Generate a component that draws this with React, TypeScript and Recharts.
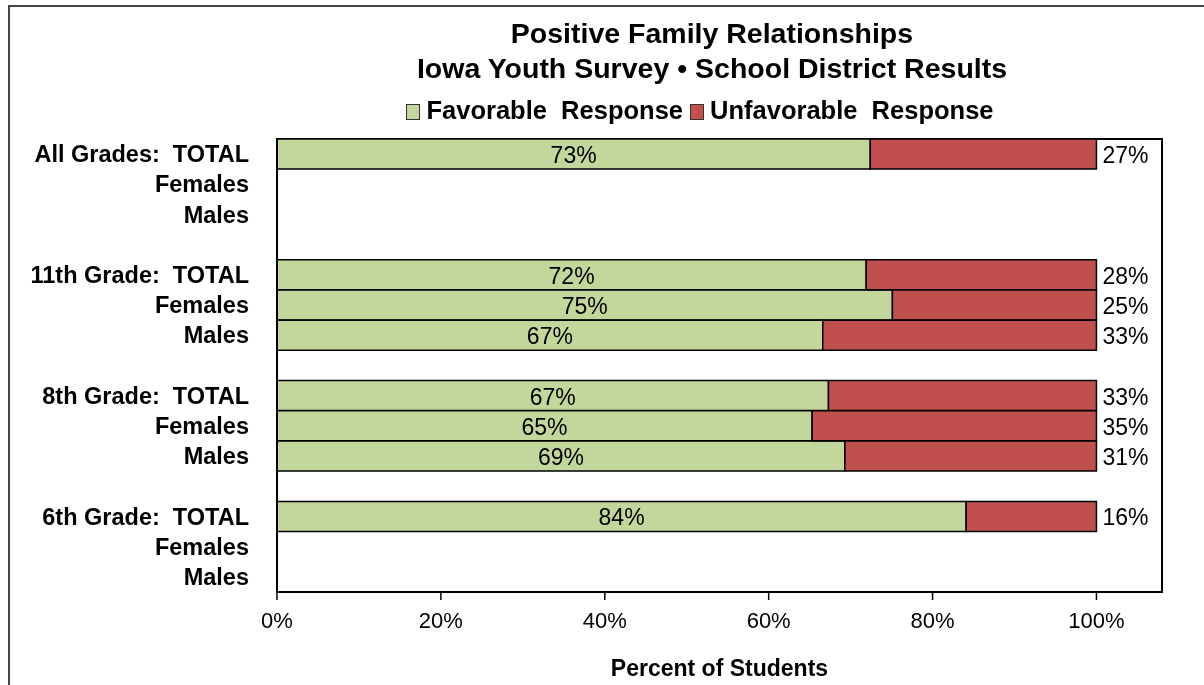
import React from "react";
import { BarChart, Bar, XAxis, YAxis, LabelList, ReferenceArea } from "recharts";

const categories = [
  "All Grades:  TOTAL",
  "Females",
  "Males",
  "",
  "11th Grade:  TOTAL",
  "Females",
  "Males",
  "",
  "8th Grade:  TOTAL",
  "Females",
  "Males",
  "",
  "6th Grade:  TOTAL",
  "Females",
  "Males",
];

const favorable = [72.4, null, null, null, 71.9, 75.1, 66.6, null, 67.3, 65.3, 69.3, null, 84.1, null, null];
const unfavorable = [27.6, null, null, null, 28.1, 24.9, 33.4, null, 32.7, 34.7, 30.7, null, 15.9, null, null];
const favorableLabels = ["73%", "", "", "", "72%", "75%", "67%", "", "67%", "65%", "69%", "", "84%", "", ""];
const unfavorableLabels = ["27%", "", "", "", "28%", "25%", "33%", "", "33%", "35%", "31%", "", "16%", "", ""];
const xTicks = [0, 20, 40, 60, 80, 100];

const FONT = "'Liberation Sans', Arial, sans-serif";
const GREEN = "#C3D69B";
const RED = "#C0504D";

const rows = categories.map((label, i) => ({
  key: `r${i}`,
  label,
  fav: favorable[i],
  unfav: unfavorable[i],
  favLabel: favorableLabels[i],
  unfavLabel: unfavorableLabels[i],
}));

function CategoryTick({ x, y, payload }: any) {
  const row = rows[payload.index] ?? rows.find((r) => r.key === payload.value);
  return (
    <text
      x={x - 20}
      y={y}
      textAnchor="end"
      dominantBaseline="central"
      fontSize={23.5}
      fontWeight="bold"
      fill="#000"
      fontFamily={FONT}
      style={{ whiteSpace: "pre" }}
    >
      {row ? row.label : ""}
    </text>
  );
}

function favLabel(p: any) {
  if (!p.value) return null;
  return (
    <text x={p.x + p.width / 2} y={p.y + p.height / 2 + 1} textAnchor="middle" dominantBaseline="central" fontSize={23} fill="#000" fontFamily={FONT}>
      {p.value}
    </text>
  );
}

function unfavLabel(p: any) {
  if (!p.value) return null;
  return (
    <text x={p.x + p.width + 6} y={p.y + p.height / 2 + 1} textAnchor="start" dominantBaseline="central" fontSize={23} fill="#000" fontFamily={FONT}>
      {p.value}
    </text>
  );
}

function LegendSwatch({ color }: { color: string }) {
  return (
    <span
      style={{
        display: "inline-block",
        width: 12,
        height: 14,
        background: color,
        border: "1px solid #333",
        marginRight: 6,
        verticalAlign: "-1px",
      }}
    />
  );
}

export default function App() {
  return (
    <div
      style={{
        position: "relative",
        width: 1196,
        height: 677,
        fontFamily: FONT,
        background: "#fff",
      }}
    >
      <div style={{ position: "fixed", left: 8, top: 5, width: 1400, height: 900, borderLeft: "2px solid #444", borderTop: "2px solid #444", pointerEvents: "none" }} />
      <div style={{ position: "absolute", left: 0, width: 1408, top: 8, textAlign: "center", fontSize: 28.5, fontWeight: "bold", lineHeight: "35px", color: "#000" }}>
        Positive Family Relationships
        <br />
        Iowa Youth Survey • School District Results
      </div>
      <div style={{ position: "absolute", left: 0, width: 1384, top: 88, textAlign: "center", fontSize: 25.5, fontWeight: "bold", color: "#000", whiteSpace: "pre" }}>
        <LegendSwatch color={GREEN} />
        {"Favorable  Response "}
        <LegendSwatch color={RED} />
        {"Unfavorable  Response"}
      </div>
      <BarChart
        width={1194}
        height={675}
        data={rows}
        layout="vertical"
        margin={{ top: 129, right: 42, left: 67, bottom: 9 }}
        barCategoryGap={0}
        style={{ position: "absolute", left: 2, top: 2 }}
      >
        <XAxis
          type="number"
          domain={[0, 108]}
          ticks={xTicks}
          tickFormatter={(v) => `${v}%`}
          axisLine={{ stroke: "#000", strokeWidth: 2 }}
          tickLine={{ stroke: "#000", strokeWidth: 1.5 }}
          tickSize={8}
          tickMargin={12}
          tick={{ fill: "#000", fontSize: 22, fontFamily: FONT }}
          height={84}
          label={{ value: "Percent of Students", position: "insideBottom", offset: 0, fontSize: 23, fontWeight: "bold", fill: "#000", fontFamily: FONT }}
        />
        <YAxis
          type="category"
          dataKey="key"
          width={200}
          axisLine={{ stroke: "#000", strokeWidth: 2 }}
          tickLine={false}
          interval={0}
          tick={<CategoryTick />}
        />
        <ReferenceArea x1={0} x2={108} fill="none" stroke="#000" strokeWidth={2} ifOverflow="visible" />
        <Bar dataKey="fav" stackId="a" fill={GREEN} stroke="#000" strokeWidth={1.5} isAnimationActive={false}>
          <LabelList dataKey="favLabel" content={favLabel} />
        </Bar>
        <Bar dataKey="unfav" stackId="a" fill={RED} stroke="#000" strokeWidth={1.5} isAnimationActive={false}>
          <LabelList dataKey="unfavLabel" content={unfavLabel} />
        </Bar>
      </BarChart>
    </div>
  );
}
